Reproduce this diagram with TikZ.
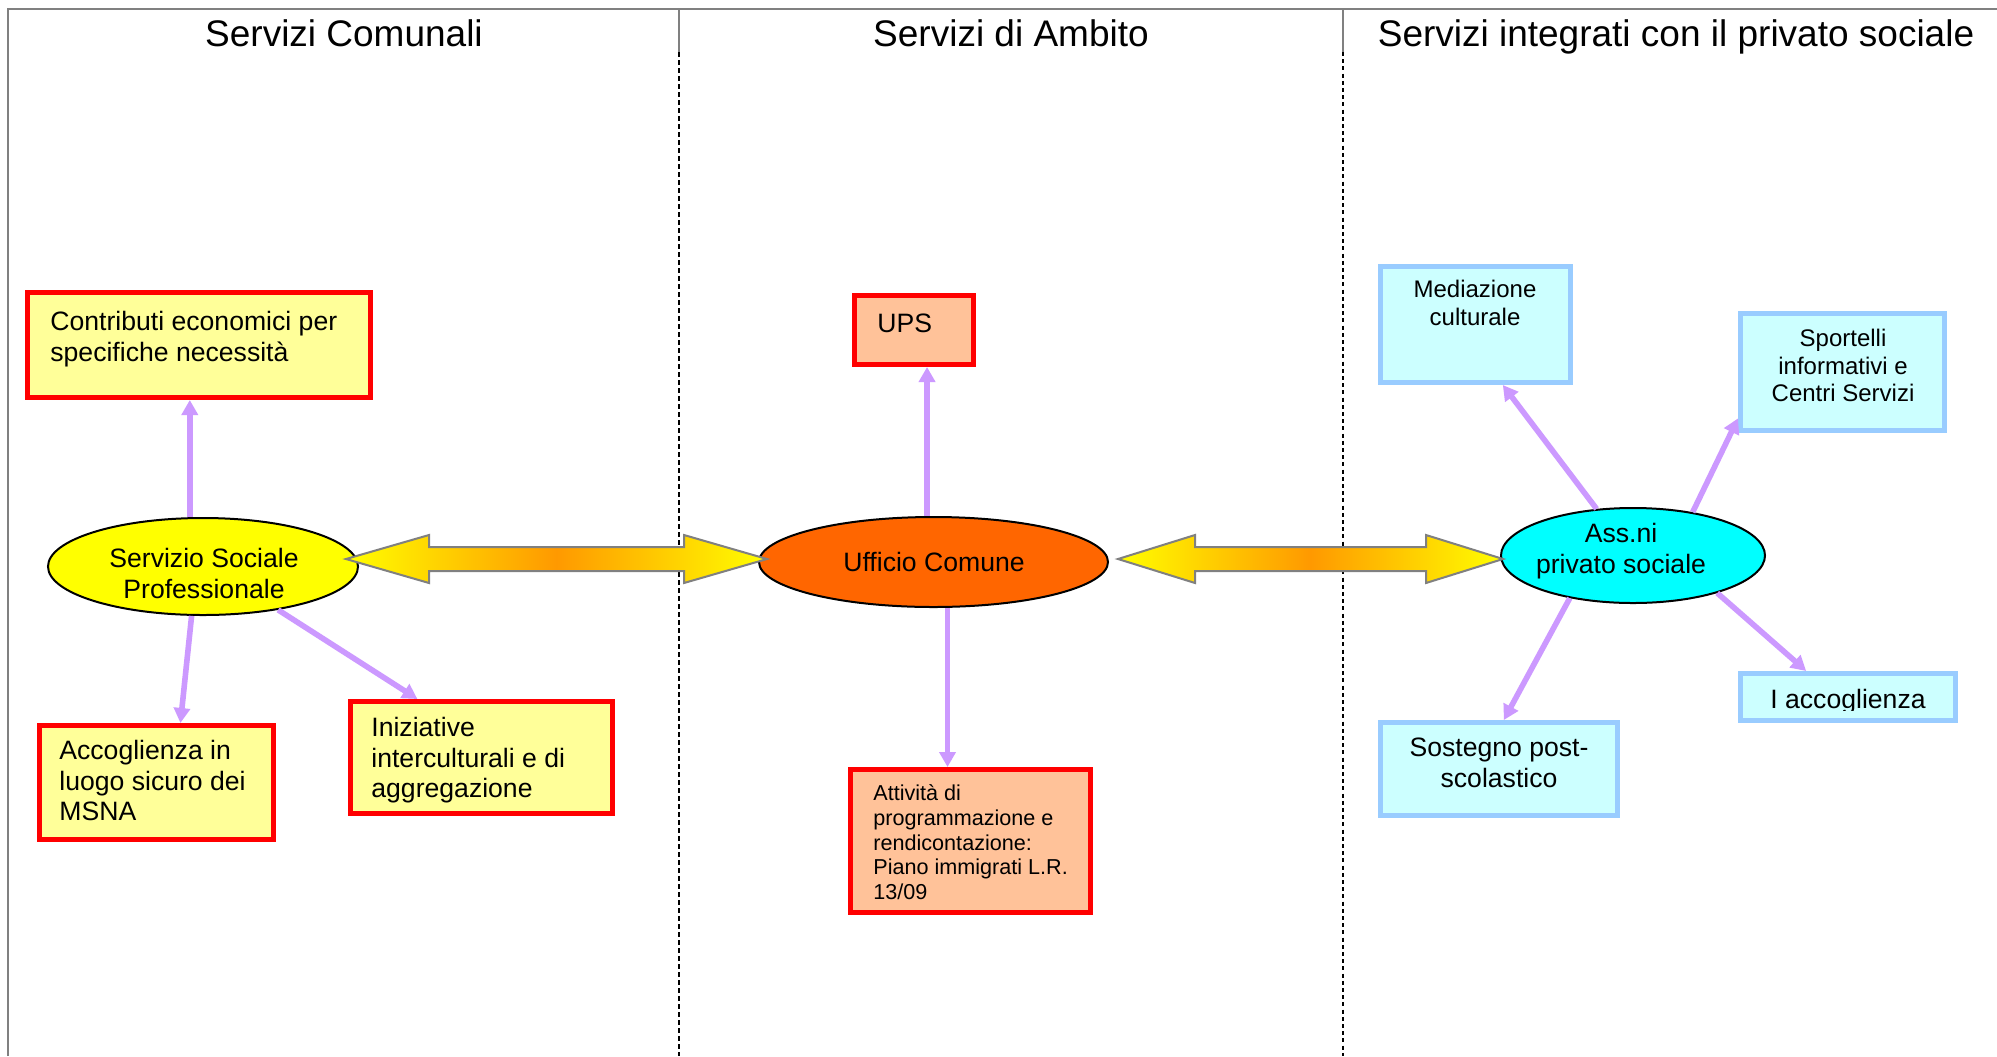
\documentclass[tikz,border=0pt]{standalone}
\usepackage{fontspec}
\setmainfont{Liberation Sans}
\usetikzlibrary{shapes.geometric,arrows.meta,calc}

\definecolor{framegray}{RGB}{128,128,128}
\definecolor{boxred}{RGB}{255,0,0}
\definecolor{paleyellow}{RGB}{255,255,153}
\definecolor{peach}{RGB}{255,194,153}
\definecolor{paleblue}{RGB}{153,204,255}
\definecolor{palecyan}{RGB}{204,255,255}
\definecolor{hubcyan}{RGB}{0,255,255}
\definecolor{hubyellow}{RGB}{255,255,0}
\definecolor{lilac}{RGB}{204,153,255}
\definecolor{ucorange}{RGB}{255,102,0}
\definecolor{arroworange}{RGB}{255,153,0}

% invisible strut that fixes the height of a first text line
\newcommand\capstrut{\rule{0pt}{0.9em}}

% wide two-headed arrow with a yellow-orange-yellow shading
% #1 left tip, #2 right tip, #3 head length
\newcommand\gradarrow[3]{%
  \draw[bigarrow] (#1) -- ($(#1)+(#3,-24)$) -- ($(#1)+(#3,-12)$)
    -- ($(#2)+(-#3,-12)$) -- ($(#2)+(-#3,-24)$) -- (#2)
    -- ($(#2)+(-#3,24)$) -- ($(#2)+(-#3,12)$)
    -- ($(#1)+(#3,12)$) -- ($(#1)+(#3,24)$) -- cycle;}

\tikzset{
  redbox/.style={rectangle, draw=boxred, line width=2.5pt, fill=paleyellow, inner sep=0pt},
  peachbox/.style={redbox, fill=peach},
  bluebox/.style={rectangle, draw=paleblue, line width=2.5pt, fill=palecyan, inner sep=0pt},
  hub/.style={ellipse, draw=black, line width=1pt, inner sep=0pt},
  coltitle/.style={inner sep=0pt, anchor=base, font=\fontsize{18.5}{22}\selectfont},
  txtmain/.style={inner sep=0pt, font=\fontsize{13.3}{15.3}\selectfont},
  txtblue/.style={inner sep=0pt, align=center, font=\fontsize{12}{13.8}\selectfont},
  txtsmall/.style={inner sep=0pt, align=left, font=\fontsize{10.8}{12.4}\selectfont},
  conn/.style={draw=lilac, line width=2.8pt, -{Triangle[width=8pt,length=7.5pt]}},
  bigarrow/.style={draw=framegray, line width=1pt, left color=hubyellow, right color=hubyellow,
    middle color=arroworange},
  sepsolid/.style={draw=framegray, line width=0.75pt},
  sepdashA/.style={draw=black, line width=0.9pt, dash pattern=on 2.4pt off 1.6pt},
  sepdashB/.style={draw=black, line width=1.3pt, dash pattern=on 2pt off 1.6pt},
}

\begin{document}
\begin{tikzpicture}[x=0.5pt,y=-0.5pt]
\useasboundingbox (0,0) rectangle (1997,1056);
\fill[white] (0,0) rectangle (1997,1056);

% outer frame and column separators
\draw[framegray, line width=1.2pt] (8,1056) -- (8,9) -- (1997,9);
\draw[sepsolid] (679,9) -- (679,52);
\draw[sepdashA] (679,52) -- (679,1056);
\draw[sepsolid] (1343,9) -- (1343,52);
\draw[sepdashB] (1343,52) -- (1343,1056);

% column headings
\node[coltitle] (h1) at (344,46) {Servizi Comunali};
\node[coltitle] (h2) at (1011,46) {Servizi di Ambito};
\node[coltitle] (h3) at (1676,46) {Servizi integrati con il privato sociale};

% municipal services
\node[redbox, minimum width=171.5pt, minimum height=52.5pt] (contrib) at (199,345) {};
\node[txtmain, align=left, anchor=north west] (contribt) at (50,306.06)
  {\capstrut Contributi economici per\\specifiche necessità};
\node[hub, fill=hubyellow, minimum width=155pt, minimum height=48.5pt] (ssp) at (203,566.5) {};
\node[txtmain, align=center, anchor=north] (sspt) at (204,543.06)
  {\capstrut Servizio Sociale\\Professionale};
\node[redbox, minimum width=117pt, minimum height=57pt] (acc) at (156.5,782.5) {};
\node[txtmain, align=left, anchor=north west] (acct) at (59,735.06)
  {\capstrut Accoglienza in\\luogo sicuro dei\\MSNA};
\node[redbox, minimum width=131pt, minimum height=56pt] (iniz) at (481.5,757.5) {};
\node[txtmain, align=left, anchor=north west] (inizt) at (371,712.06)
  {\capstrut Iniziative\\interculturali e di\\aggregazione};

% district services
\node[peachbox, minimum width=59.5pt, minimum height=34.5pt] (ups) at (914,330) {};
\node[txtmain, anchor=base west] (upst) at (877,332) {UPS};
\node[hub, fill=ucorange, minimum width=174.5pt, minimum height=45pt] (uc) at (933.5,562) {};
\node[txtmain, anchor=base] (uct) at (934,571) {Ufficio Comune};
\node[peachbox, minimum width=120pt, minimum height=71.5pt] (att) at (970.5,841) {};
\node[txtsmall, anchor=north west] (attt) at (873,780.56)
  {\capstrut Attività di\\programmazione e\\rendicontazione:\\Piano immigrati L.R.\\13/09};

% services shared with the social private sector
\node[hub, fill=hubcyan, minimum width=132pt, minimum height=47.5pt] (ass) at (1633,555.5) {};
\node[txtmain, align=center, anchor=north] (asst) at (1621,518.06)
  {\capstrut Ass.ni\\privato sociale};
\node[bluebox, minimum width=95pt, minimum height=58pt] (med) at (1475.5,324.5) {};
\node[txtblue, anchor=north] (medt) at (1475,275.4) {\capstrut Mediazione\\culturale};
\node[bluebox, minimum width=102pt, minimum height=58.5pt] (spo) at (1842.5,372) {};
\node[txtblue, anchor=north] (spot) at (1843,324.4)
  {\capstrut Sportelli\\informativi e\\Centri Servizi};
\node[bluebox, minimum width=107.5pt, minimum height=23.5pt] (iacc) at (1848,697) {};
\begin{scope}
  \clip (iacc.north west) rectangle ($(iacc.south east)+(0,-13)$);
  \node[txtmain, anchor=base] (iacct) at (1848,708) {I accoglienza};
\end{scope}
\node[bluebox, minimum width=118.5pt, minimum height=46.5pt] (sos) at (1499,769) {};
\node[txtmain, align=center, anchor=north] (sost) at (1499,732.06)
  {\capstrut Sostegno post-\\scolastico};

% links from each hub to its services
\draw[conn] (ssp.105) -- (contrib.south -| ssp.105);
\draw[conn] (ssp.257) -- ($(acc.north west)!0.6!(acc.north east)$);
\draw[conn] (ssp.-30) -- ($(iniz.north west)!0.26!(iniz.north east)$);
\draw[conn] (uc.98) -- (ups.south -| uc.98);
\draw[conn] (uc.-73) -- (att.north -| uc.-73);
\draw[conn] (ass.128) -- ($(med.south west)!0.64!(med.south east)$);
\draw[conn] (ass.36) -- ($(spo.north west)!0.88!(spo.south west)$);
\draw[conn] (ass.214) -- ($(sos.north west)!0.52!(sos.north east)$);
\draw[conn] (ass.-24) -- ($(iacc.north west)!0.31!(iacc.north east)$);

% two-way links between the hubs
\coordinate (tipA1) at ($(ssp.east)+(-13,-7.5)$);
\coordinate (tipA2) at ($(uc.west)+(9,-3)$);
\coordinate (tipB1) at ($(uc.east)+(9,-3)$);
\coordinate (tipB2) at ($(ass.west)+(3,3.5)$);
\gradarrow{tipA1}{tipA2}{83}
\gradarrow{tipB1}{tipB2}{77}
\end{tikzpicture}
\end{document}
